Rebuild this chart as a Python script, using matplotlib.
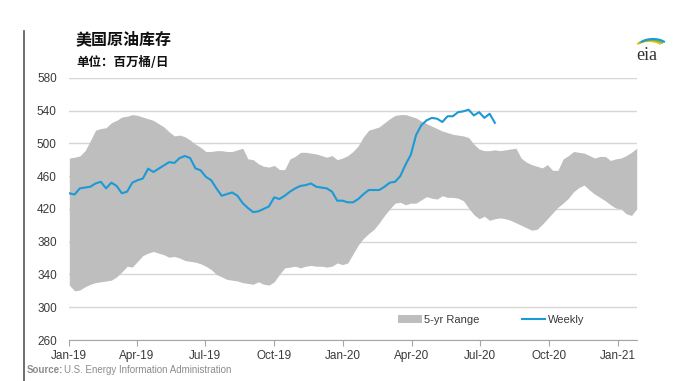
import numpy as np
import pandas as pd
import matplotlib
matplotlib.use("Agg")
import matplotlib.pyplot as plt
import matplotlib.dates as mdates
from matplotlib.patches import Arc

plt.rcParams['font.family'] = ['Liberation Sans', 'Noto Sans CJK SC', 'DejaVu Sans']

# weekly grid (5-yr range runs Jan-19 .. late Jan-21)
band_dates = pd.date_range("2019-01-01", periods=109, freq="7D")

band_hi = [482, 483, 484.5, 491, 503, 516, 518, 519, 525, 528,
           532, 533, 535, 534, 532, 530, 528, 524, 520, 514,
           509, 510, 508, 504, 499, 495, 490, 490, 491, 491,
           490, 490, 492, 494, 481, 480, 475, 472, 471, 473,
           468, 468, 481, 484, 489, 489, 488, 487, 485, 483,
           485, 480, 482, 485, 490, 497, 508, 516, 518, 520,
           525, 530, 534, 535, 535, 533, 531, 527, 524, 521,
           518, 515, 513, 511, 510, 509, 507, 499, 493, 491,
           491, 492, 491, 492, 493, 494, 482, 477, 474, 472,
           470, 474, 467, 467, 481, 485, 490, 489, 488, 485,
           482, 484, 484, 479, 481, 482, 485, 489, 494]

band_lo = [327, 320, 321, 325, 328, 330, 331, 332, 333, 337,
           343, 350, 349, 356, 363, 366, 368, 366, 364, 361,
           362, 360, 357, 356, 355, 353, 350, 346, 340, 337,
           334, 333, 332, 330, 329, 328, 331, 328, 327, 331,
           340, 348, 349, 350, 348, 350, 351, 350, 350, 349,
           350, 354, 352, 354, 365, 376, 384, 390, 395, 403,
           412, 420, 427, 428, 425, 427, 427, 431, 435, 433,
           432, 436, 434, 434, 433, 430, 421, 413, 408, 411,
           406, 408, 409, 408, 406, 403, 400, 397, 394, 395,
           401, 408, 415, 422, 427, 433, 441, 446, 449, 443,
           438, 434, 430, 425, 421, 420, 414, 412, 420]

weekly = [439, 437.5, 445, 446, 447, 451, 453, 445, 452, 448,
          439, 441, 452, 455, 457, 469, 465, 469, 473, 477,
          476, 482, 484.5, 482, 469.5, 467, 459, 455, 445, 436,
          438, 440, 436, 427, 421, 416, 417, 420, 423, 434,
          432, 436, 441, 445, 448, 449, 451, 447, 446, 445,
          441, 430, 430, 428, 428, 432, 438, 443, 443, 443,
          447, 452, 453, 460, 474, 486, 510, 522, 528, 531,
          530, 526, 533, 533, 538, 539, 541, 534, 538, 531,
          536, 525]
weekly_dates = band_dates[:len(weekly)]

yticks = [260, 300, 340, 380, 420, 460, 500, 540, 580]
xticks = pd.to_datetime(["2019-01-01", "2019-04-01", "2019-07-01", "2019-10-01",
                         "2020-01-01", "2020-04-01", "2020-07-01", "2020-10-01",
                         "2021-01-01"])
xlabels = ["Jan-19", "Apr-19", "Jul-19", "Oct-19", "Jan-20",
           "Apr-20", "Jul-20", "Oct-20", "Jan-21"]

fig = plt.figure(figsize=(6.93, 3.81), dpi=100)
ax = fig.add_axes([0.1, 0.1076, 0.8188, 0.6884])

ax.fill_between(band_dates, band_lo, band_hi, color='#BEBEBE', lw=0,
                label='5-yr Range')
ax.plot(weekly_dates, weekly, color='#1B9AD6', lw=1.5, label='Weekly')

ax.set_ylim(260, 580)
ax.set_xlim(band_dates[0], band_dates[-1])
ax.set_yticks(yticks)
ax.set_xticks(xticks)
ax.set_xticklabels(xlabels)
ax.grid(axis='y', color='#D6D6D6', lw=1)
ax.set_axisbelow(True)
for s in ['top', 'right', 'left']:
    ax.spines[s].set_visible(False)
ax.spines['bottom'].set_color('#A6A6A6')
ax.tick_params(axis='y', length=0, pad=9, labelsize=8.5, labelcolor='#3A3A3A')
ax.tick_params(axis='x', length=4, color='#A6A6A6', pad=3, labelsize=8.5,
               labelcolor='#3A3A3A')

ax.legend(loc='center', bbox_to_anchor=(0.744, 0.076), ncol=2, frameon=False,
          fontsize=8, columnspacing=3.8, handlelength=2.1, handletextpad=0.25,
          labelcolor='#3A3A3A')

# titles
fig.text(76 / 693, 1 - 39 / 381, "美国原油库存", fontsize=11.5, fontweight='bold',
         family=['Noto Sans CJK SC'], va='center', ha='left', color='#111111')
fig.text(76 / 693, 1 - 62 / 381, "单位：百万桶/日", fontsize=9, fontweight='bold',
         family=['Noto Sans CJK SC'], va='center', ha='left', color='#111111')

# source
fig.text(27 / 693, 1 - 370 / 381, "Source:", fontsize=7, fontweight='bold',
         color='#8C8C8C', va='center', ha='left')
fig.text(64 / 693, 1 - 370 / 381, "U.S. Energy Information Administration",
         fontsize=7, color='#8C8C8C', va='center', ha='left')

# left border line
fig.add_artist(plt.Line2D([24 / 693, 24 / 693], [0, 1 - 31 / 381],
                          color='#555555', lw=1.2))

# eia logo
fig.text(647 / 693, 1 - 55 / 381, "eia", fontsize=13, family='Liberation Serif',
         color='#333333', ha='center', va='center')
for cx, cy, col in [(649, 48, '#F2C40F'), (651, 47, '#7BB93D'), (653, 46, '#1B9AD6')]:
    arc = Arc((cx / 693, 1 - cy / 381), 28 / 693, 14 / 381, theta1=30,
              theta2=150, color=col, lw=1.5, transform=fig.transFigure)
    fig.add_artist(arc)

fig.savefig("out.png", dpi=100)
